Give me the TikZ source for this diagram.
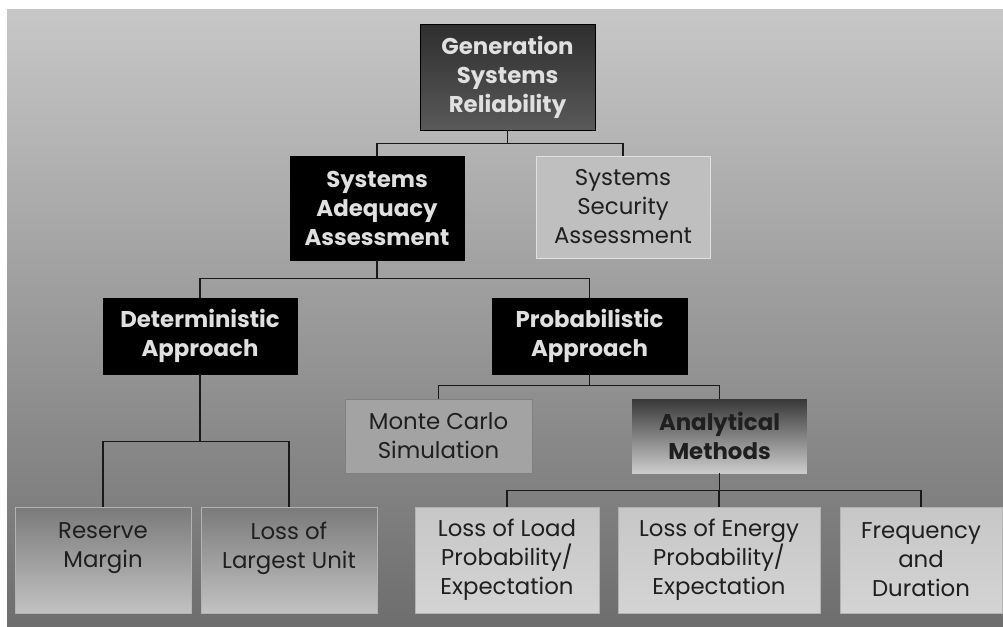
\documentclass[tikz,border=0pt]{standalone}
\usepackage{fontspec}
\setmainfont{Poppins}
\usepackage{tikz}
\usetikzlibrary{calc}

\begin{document}
\begin{tikzpicture}[x=0.02cm,y=-0.02cm,
  base/.style={rectangle,inner sep=0pt,align=center,text=lighttext,
               font=\fontsize{13}{16.5}\selectfont},
  head/.style={base,text=headtext,font=\fontsize{13}{16.5}\selectfont\bfseries},
  blackbox/.style={head,draw=black,fill=black},
  leafbox/.style={base,draw=black!30,line width=0.4pt},
  link/.style={draw=black!90,line width=0.9pt}]
\colorlet{headtext}{black!12} \colorlet{lighttext}{black!88}
\colorlet{bgtop}{black!22} \colorlet{bgmid}{black!35} \colorlet{bgbot}{black!57}
% background
\fill[white] (0,0) rectangle (1003,626);
\shade[top color=bgtop,middle color=bgmid,bottom color=bgbot] (7,9) rectangle (1003,626);
% boxes
\node[head,draw=black,top color=black!82,bottom color=black!65,
      minimum width=3.5cm,minimum height=2.12cm] (gen) at (507.5,77) {Generation\\Systems\\Reliability};
\node[blackbox,minimum width=3.48cm,minimum height=2.08cm] (adeq) at (377,208) {Systems\\Adequacy\\Assessment};
\node[base,draw=black!12,fill=black!25,line width=0.5pt,
      minimum width=3.48cm,minimum height=2.04cm] (secu) at (623,207) {Systems\\Security\\Assessment};
\node[blackbox,minimum width=3.88cm,minimum height=1.52cm] (determ) at (200,336) {Deterministic\\Approach};
\node[blackbox,minimum width=3.9cm,minimum height=1.52cm] (probab) at (589.5,336) {Probabilistic\\Approach};
\node[base,draw=black!50,fill=black!36,line width=0.5pt,
      minimum width=3.74cm,minimum height=1.48cm] (monte) at (438.5,436) {Monte Carlo\\Simulation};
\node[head,text=lighttext,top color=black!78,bottom color=black!20,
      minimum width=3.5cm,minimum height=1.48cm] (analyt) at (719.5,436) {Analytical\\Methods};
\node[leafbox,top color=black!52,bottom color=black!24,
      minimum width=3.52cm,minimum height=2.12cm] (reserve) at (103,560) {Reserve\\Margin\\\mbox{}};
\node[leafbox,top color=black!52,bottom color=black!24,
      minimum width=3.52cm,minimum height=2.12cm] (largest) at (289,560) {Loss of\\Largest Unit\\\mbox{}};
\node[leafbox,top color=black!22,bottom color=black!17,
      minimum width=3.68cm,minimum height=2.12cm] (lolp) at (507,560) {Loss of Load\\Probability/\\Expectation};
\node[leafbox,top color=black!22,bottom color=black!17,
      minimum width=4.04cm,minimum height=2.12cm] (loee) at (719,560) {Loss of Energy\\Probability/\\Expectation};
\node[leafbox,top color=black!22,bottom color=black!17,
      minimum width=3.24cm,minimum height=2.12cm] (freq) at (921,560) {Frequency\\and\\Duration};
% tree lines
\foreach \from/\to/\drop in {gen/adeq/13,gen/secu/13,adeq/determ/18,adeq/probab/18,
                             determ/reserve/67,determ/largest/67,probab/monte/11,probab/analyt/11,
                             analyt/lolp/17,analyt/loee/17,analyt/freq/17}
  \draw[link] (\from.south) -- ++(0,\drop) -| (\to.north);
\end{tikzpicture}
\end{document}
